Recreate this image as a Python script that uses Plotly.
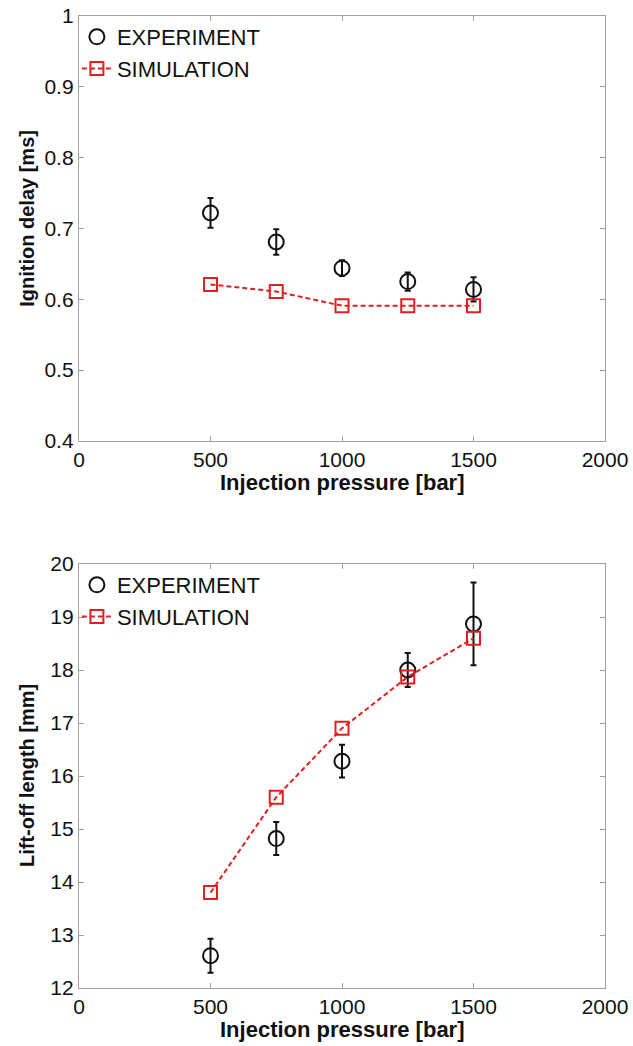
import plotly.graph_objects as go
from plotly.subplots import make_subplots

pressure = [500, 750, 1000, 1250, 1500]

# Ignition delay [ms]
ign_exp = [0.722, 0.681, 0.644, 0.625, 0.614]
ign_exp_err = [0.021, 0.018, 0.011, 0.013, 0.017]
ign_sim = [0.621, 0.611, 0.591, 0.591, 0.591]

# Lift-off length [mm]
lol_exp = [12.61, 14.82, 16.28, 18.0, 18.87]
lol_exp_err = [0.32, 0.31, 0.31, 0.32, 0.78]
lol_sim = [13.8, 15.6, 16.9, 17.87, 18.6]

x_ticks = [0, 500, 1000, 1500, 2000]
ign_ticks = [0.4, 0.5, 0.6, 0.7, 0.8, 0.9, 1]
ign_ticklabels = ["0.4", "0.5", "0.6", "0.7", "0.8", "0.9", "1"]
lol_ticks = [12, 13, 14, 15, 16, 17, 18, 19, 20]

x_title = "Injection pressure [bar]"
y_titles = ["Ignition delay [ms]", "Lift-off length [mm]"]

fig = make_subplots(rows=2, cols=1)

BLACK = "#111111"
RED = "#e02020"
FONT = "Liberation Sans, Arial, sans-serif"

def add_panel(row, exp, err, sim):
    lg = "legend" if row == 1 else "legend2"
    fig.add_trace(go.Scatter(
        x=pressure, y=exp, mode="markers", name="EXPERIMENT",
        marker=dict(symbol="circle-open", size=15, color=BLACK, line=dict(width=2, color=BLACK)),
        error_y=dict(type="data", array=err, visible=True, color=BLACK, thickness=2, width=3),
        showlegend=True, legend=lg,
    ), row=row, col=1)
    fig.add_trace(go.Scatter(
        x=pressure, y=sim, mode="lines+markers", name="SIMULATION",
        line=dict(color=RED, width=2, dash="5px,3px"),
        marker=dict(symbol="square-open", size=13, color=RED, line=dict(width=2, color=RED)),
        showlegend=True, legend=lg,
    ), row=row, col=1)

add_panel(1, ign_exp, ign_exp_err, ign_sim)
add_panel(2, lol_exp, lol_exp_err, lol_sim)

axis_common = dict(
    showline=True, linecolor="#a0a0a0", linewidth=1.3, mirror="ticks",
    ticks="inside", tickcolor="#a0a0a0", ticklen=5,
    showgrid=False, zeroline=False, automargin=False, ticklabeloverflow="allow",
    tickfont=dict(family=FONT, size=21, color="#111111"),
)

fig.update_xaxes(**axis_common, range=[0, 2000], tickvals=x_ticks)
fig.update_yaxes(**axis_common)
fig.update_yaxes(range=[0.4, 1], tickvals=ign_ticks, ticktext=ign_ticklabels, row=1, col=1)
fig.update_yaxes(range=[12, 20], tickvals=lol_ticks, row=2, col=1)

W, H = 633, 1046
ML, MR, MT, MB = 79, 28, 16, 58
PH = H - MT - MB  # 972
PW = W - ML - MR  # 526
top_dom = [0.5628, 1.0]
bot_dom = [0.0, 0.4362]
plot_bottom = H - MB  # 988

xfont = dict(family=FONT, size=22, color="#111111")
yfont = dict(family=FONT, size=20, color="#111111")
ytitle_x = (27 - ML) / PW
annotations = [
    dict(text="<b>%s</b>" % x_title, xref="paper", yref="paper", x=0.5,
         y=(plot_bottom - 482) / PH, xanchor="center", yanchor="middle", showarrow=False, font=xfont),
    dict(text="<b>%s</b>" % x_title, xref="paper", yref="paper", x=0.5,
         y=-41 / PH, xanchor="center", yanchor="middle", showarrow=False, font=xfont),
    dict(text="<b>%s</b>" % y_titles[0], xref="paper", yref="paper", x=ytitle_x,
         y=sum(top_dom) / 2 + 0.01, xanchor="center", yanchor="middle", showarrow=False,
         textangle=-90, font=yfont),
    dict(text="<b>%s</b>" % y_titles[1], xref="paper", yref="paper", x=ytitle_x,
         y=sum(bot_dom) / 2, xanchor="center", yanchor="middle", showarrow=False,
         textangle=-90, font=yfont),
]

legend_font = dict(family=FONT, size=22, color="#111111")
fig.update_layout(
    width=W, height=H,
    margin=dict(l=ML, r=MR, t=MT, b=MB, autoexpand=False),
    paper_bgcolor="white", plot_bgcolor="white",
    xaxis=dict(domain=[0, 1]), xaxis2=dict(domain=[0, 1]),
    yaxis=dict(domain=top_dom), yaxis2=dict(domain=bot_dom),
    annotations=annotations,
    legend=dict(x=-0.004, y=top_dom[1], xanchor="left", yanchor="top", bgcolor="rgba(0,0,0,0)",
                font=legend_font, itemwidth=30, tracegroupgap=0),
    legend2=dict(x=-0.004, y=bot_dom[1], xanchor="left", yanchor="top", bgcolor="rgba(0,0,0,0)",
                 font=legend_font, itemwidth=30, tracegroupgap=0),
)

# remove the default page margin so the figure fills the window exactly
fig.write_html("out.html", config={"displayModeBar": False},
               post_script="document.body.style.margin='0';document.body.style.overflow='hidden';")
